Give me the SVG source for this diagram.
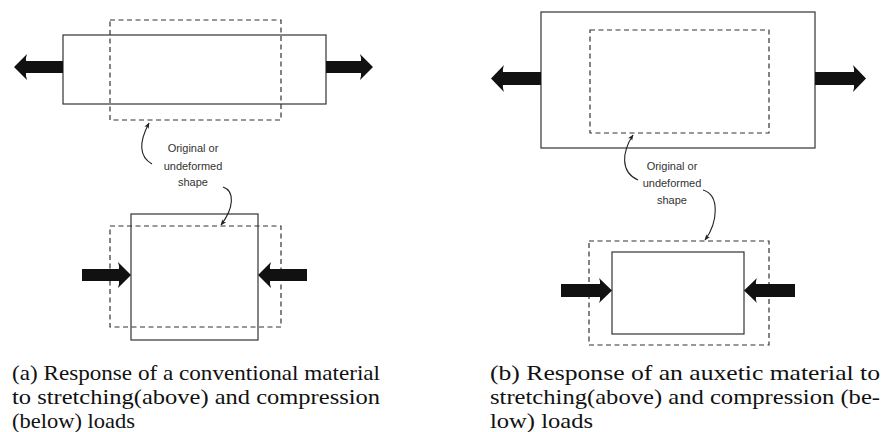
<svg xmlns="http://www.w3.org/2000/svg" width="882" height="432" viewBox="0 0 882 432">
<style>
.solid{fill:none;stroke:#333;stroke-width:1.2}
.dash{fill:none;stroke:#333;stroke-width:1.2;stroke-dasharray:5 3.5}
.load{fill:#111;stroke:none}
.lbl{font-family:"Liberation Sans",Arial,sans-serif;font-size:11px;fill:#333;text-anchor:middle}
.cap{font-family:"Liberation Serif","Times New Roman",serif;font-size:21px;fill:#111}
.curve{fill:none;stroke:#222;stroke-width:1.1;marker-end:url(#tip)}
</style>
<defs>
<marker id="tip" viewBox="0 0 10 10" refX="9" refY="5" markerWidth="6" markerHeight="6" orient="auto" markerUnits="userSpaceOnUse">
<path d="M0,1 L10,5 L0,9 L2.5,5 Z" fill="#222"/>
</marker>
</defs>
<rect width="882" height="432" fill="#fff"/>

<g id="panel-a-stretch">
<rect class="solid" x="63" y="35" width="263" height="69"/>
<rect class="dash" x="110" y="20" width="171" height="100"/>
</g>
<g id="panel-a-compress">
<rect class="solid" x="131" y="214" width="127" height="126"/>
<rect class="dash" x="110" y="226" width="171" height="101"/>
</g>
<g id="panel-b-stretch">
<rect class="solid" x="541" y="12" width="274" height="136"/>
<rect class="dash" x="590" y="30" width="179" height="103"/>
</g>
<g id="panel-b-compress">
<rect class="solid" x="612" y="252" width="132" height="82"/>
<rect class="dash" x="589" y="241" width="180" height="104"/>
</g>

<g id="loads">
<path class="load" d="M14,67 L27,54 Q25.5,58 26,61 L63,61 L63,73 L26,73 Q25.5,76 27,80 Z"/>
<path class="load" d="M373,67 L360,54 Q361.5,58 361,61 L326,61 L326,73 L361,73 Q361.5,76 360,80 Z"/>
<path class="load" d="M131,275 L118,262 Q119.5,266 119,269 L82,269 L82,281 L119,281 Q119.5,284 118,288 Z"/>
<path class="load" d="M258,275 L271,262 Q269.5,266 270,269 L307,269 L307,281 L270,281 Q269.5,284 271,288 Z"/>
<path class="load" d="M491,78.5 L504,65 Q502.5,69 503,72 L541,72 L541,85 L503,85 Q502.5,88 504,92 Z"/>
<path class="load" d="M866,78.5 L853,65 Q854.5,69 854,72 L815,72 L815,85 L854,85 Q854.5,88 853,92 Z"/>
<path class="load" d="M612,290.5 L599,278 Q600.5,281 600,284 L561,284 L561,297 L600,297 Q600.5,300 599,303 Z"/>
<path class="load" d="M744,290.5 L757,278 Q755.5,281 756,284 L795,284 L795,297 L756,297 Q755.5,300 757,303 Z"/>
</g>

<g id="label-a">
<text class="lbl" x="193" y="152">Original or</text>
<text class="lbl" x="193" y="170">undeformed</text>
<text class="lbl" x="193" y="186">shape</text>
</g>
<g id="label-b">
<text class="lbl" x="672" y="170">Original or</text>
<text class="lbl" x="672" y="187">undeformed</text>
<text class="lbl" x="672" y="204">shape</text>
</g>

<g id="connectors">
<path class="curve" d="M152,164 C138,156 140,140 149,123"/>
<path class="curve" d="M223,187 C235,191 234,208 221,225"/>
<path class="curve" d="M638,180 C620,172 622,152 633,135"/>
<path class="curve" d="M703,190 C720,195 718,222 705,240"/>
</g>

<g id="caption-a">
<text class="cap" x="12" y="380" textLength="368" lengthAdjust="spacingAndGlyphs">(a) Response of a conventional material</text>
<text class="cap" x="12" y="404" textLength="368" lengthAdjust="spacingAndGlyphs">to stretching(above) and compression</text>
<text class="cap" x="12" y="428" textLength="123" lengthAdjust="spacingAndGlyphs">(below) loads</text>
</g>
<g id="caption-b">
<text class="cap" x="490" y="380" textLength="390" lengthAdjust="spacingAndGlyphs">(b) Response of an auxetic material to</text>
<text class="cap" x="490" y="404" textLength="390" lengthAdjust="spacingAndGlyphs">stretching(above) and compression (be-</text>
<text class="cap" x="490" y="428" textLength="103" lengthAdjust="spacingAndGlyphs">low) loads</text>
</g>
</svg>
